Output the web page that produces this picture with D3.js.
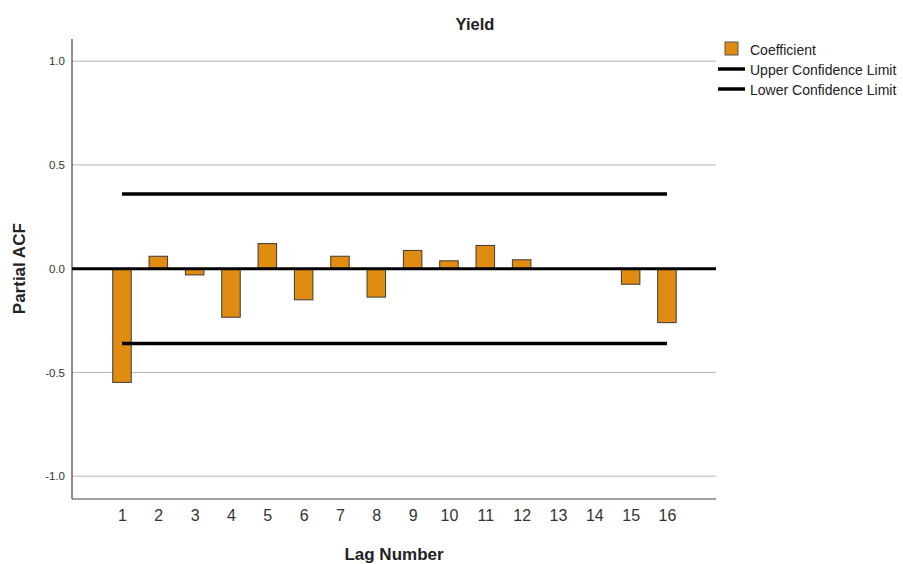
<!DOCTYPE html>
<html><head><meta charset="utf-8">
<script src="https://cdn.jsdelivr.net/npm/d3@7"></script>
<style>body{margin:0;background:#fff}svg{display:block}text{font-family:"Liberation Sans",Arial,sans-serif}</style>
</head><body><svg id="c" width="903" height="564"></svg>
<script>
const lags = [1,2,3,4,5,6,7,8,9,10,11,12,13,14,15,16];
const coefficients = [-0.548,0.060,-0.030,-0.234,0.121,-0.150,0.060,-0.137,0.088,0.038,0.112,0.043,0,0,-0.075,-0.260];
const upperLimit = 0.36;
const lowerLimit = -0.36;
const yTicks = [1.0,0.5,0.0,-0.5,-1.0];
const legendLabels = ["Coefficient","Upper Confidence Limit","Lower Confidence Limit"];

const svg = d3.select("#c");
const L=72,R=716,T=39,B=499;
const x = d3.scaleLinear().domain([-0.376,17.35]).range([L,R]);
const y = d3.scaleLinear().domain([-1.11,1.107]).range([B,T]);

// gridlines
svg.append("g").selectAll("line").data(yTicks).join("line")
  .attr("x1",L).attr("x2",R).attr("y1",d=>y(d)).attr("y2",d=>y(d))
  .attr("stroke","#b4b4b4").attr("stroke-width",1);

// y axis
const ya = svg.append("g").attr("transform",`translate(${L},0)`)
  .call(d3.axisLeft(y).tickValues(yTicks).tickFormat(d=>d.toFixed(1)).tickSize(0).tickPadding(7));
ya.select(".domain").remove();
ya.selectAll("text").attr("font-size",11.5).attr("fill","#333").attr("font-family","Liberation Sans, Arial, sans-serif");
svg.append("line").attr("x1",L).attr("x2",L).attr("y1",T).attr("y2",B).attr("stroke","#444").attr("stroke-width",1.2);

// x axis
const xa = svg.append("g").attr("transform",`translate(0,${B})`)
  .call(d3.axisBottom(x).tickValues(lags).tickFormat(d3.format("d")).tickSize(0).tickPadding(11));
xa.select(".domain").remove();
xa.selectAll("text").attr("font-size",16).attr("fill","#333").attr("font-family","Liberation Sans, Arial, sans-serif");
svg.append("line").attr("x1",L).attr("x2",R).attr("y1",B).attr("y2",B).attr("stroke","#444").attr("stroke-width",1.2);

// bars
const bw = 18.5;
svg.append("g").selectAll("rect").data(lags.map((l,i)=>({l,v:coefficients[i]})).filter(d=>d.v!==0)).join("rect")
  .attr("x",d=>x(d.l)-bw/2).attr("width",bw)
  .attr("y",d=>Math.min(y(d.v),y(0))).attr("height",d=>Math.abs(y(d.v)-y(0)))
  .attr("fill","#e08c10").attr("stroke","#3a3a3a").attr("stroke-width",1);

// zero line
svg.append("line").attr("x1",L).attr("x2",R).attr("y1",y(0)).attr("y2",y(0)).attr("stroke","#000").attr("stroke-width",3);

// confidence limits
[upperLimit,lowerLimit].forEach(v=>{
  svg.append("line").attr("x1",x(1)).attr("x2",x(16)).attr("y1",y(v)).attr("y2",y(v)).attr("stroke","#000").attr("stroke-width",3.5);
});

// titles
svg.append("text").attr("x",475).attr("y",30).attr("text-anchor","middle").attr("font-size",16.5).attr("font-weight","bold").attr("fill","#222").text("Yield");
svg.append("text").attr("x",(L+R)/2).attr("y",560).attr("text-anchor","middle").attr("font-size",17).attr("font-weight","bold").attr("fill","#222").text("Lag Number");
svg.append("text").attr("transform",`translate(25,${y(0)}) rotate(-90)`).attr("text-anchor","middle").attr("font-size",17).attr("font-weight","bold").attr("fill","#222").text("Partial ACF");

// legend
const lg = svg.append("g");
lg.append("rect").attr("x",725).attr("y",42).attr("width",13).attr("height",13).attr("fill","#e08c10").attr("stroke","#555");
[69,89].forEach(yy=>lg.append("line").attr("x1",718).attr("x2",745).attr("y1",yy).attr("y2",yy).attr("stroke","#000").attr("stroke-width",3.5));
lg.selectAll("text").data(legendLabels).join("text")
  .attr("x",750).attr("y",(d,i)=>[50,70,90][i]).attr("dy","0.35em")
  .attr("font-size",14).attr("fill","#222").text(d=>d);
</script></body></html>
